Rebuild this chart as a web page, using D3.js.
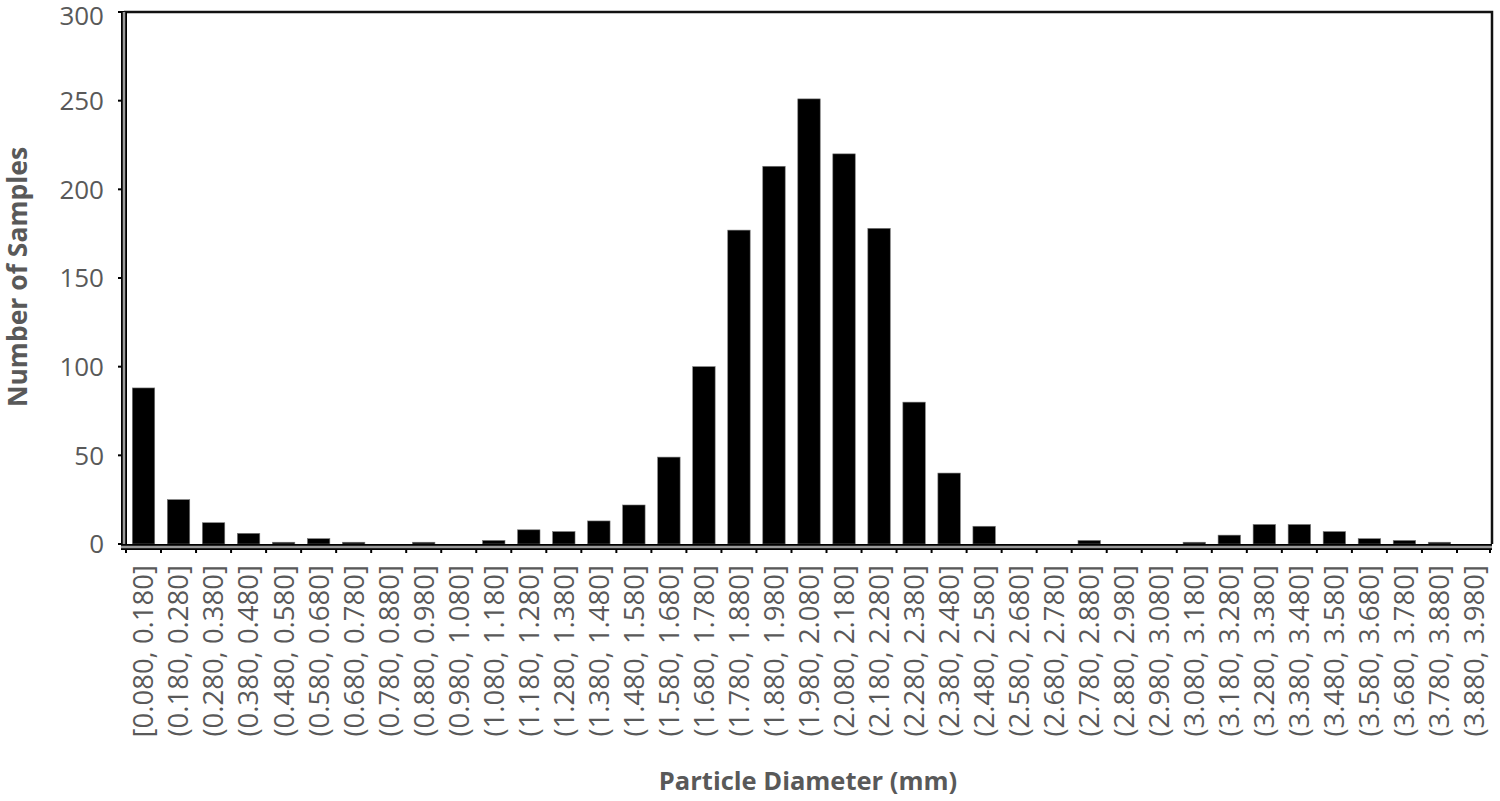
<!DOCTYPE html>
<html><head><meta charset="utf-8">
<script src="https://cdn.jsdelivr.net/npm/d3@7"></script>
<style>body{margin:0;background:#fff}svg{display:block}</style>
</head><body><svg id="c" width="1500" height="801"></svg>
<script>
const categories = ["[0.080, 0.180]","(0.180, 0.280]","(0.280, 0.380]","(0.380, 0.480]","(0.480, 0.580]","(0.580, 0.680]","(0.680, 0.780]","(0.780, 0.880]","(0.880, 0.980]","(0.980, 1.080]","(1.080, 1.180]","(1.180, 1.280]","(1.280, 1.380]","(1.380, 1.480]","(1.480, 1.580]","(1.580, 1.680]","(1.680, 1.780]","(1.780, 1.880]","(1.880, 1.980]","(1.980, 2.080]","(2.080, 2.180]","(2.180, 2.280]","(2.280, 2.380]","(2.380, 2.480]","(2.480, 2.580]","(2.580, 2.680]","(2.680, 2.780]","(2.780, 2.880]","(2.880, 2.980]","(2.980, 3.080]","(3.080, 3.180]","(3.180, 3.280]","(3.280, 3.380]","(3.380, 3.480]","(3.480, 3.580]","(3.580, 3.680]","(3.680, 3.780]","(3.780, 3.880]","(3.880, 3.980]"];
const counts = [88,25,12,6,1,3,1,0,1,0,2,8,7,13,22,49,100,177,213,251,220,178,80,40,10,0,0,2,0,0,1,5,11,11,7,3,2,1,0];
const yTicks = [0,50,100,150,200,250,300];
const xTitle = "Particle Diameter (mm)";
const yTitle = "Number of Samples";

const svg = d3.select("#c");
const pL = 124, pR = 1492, pT = 12, pB = 544;
const font = "'Open Sans', sans-serif";
const grey = "#595959";

const x = d3.scaleBand().domain(categories).range([pL+2, pR]).paddingInner(0.36).paddingOuter(0.18);
const y = d3.scaleLinear().domain([0,300]).range([pB, pT]);

// frame top and right
svg.append("path").attr("d", `M${pL},${pT}H${pR}V${pB}`).attr("fill","none").attr("stroke","#111").attr("stroke-width",2.5);

// bars
svg.append("g").selectAll("rect").data(counts).join("rect")
  .attr("x",(d,i)=>x(categories[i]))
  .attr("width",x.bandwidth())
  .attr("y",d=>y(d))
  .attr("height",d=>pB-y(d))
  .attr("fill","#000").attr("stroke","#777").attr("stroke-width",0.6);

// y axis ticks & labels
const gy = svg.append("g");
gy.selectAll("line").data(yTicks).join("line")
  .attr("x1",pL-6).attr("x2",pL).attr("y1",d=>y(d)).attr("y2",d=>y(d))
  .attr("stroke","#000").attr("stroke-width",2);
gy.selectAll("text").data(yTicks).join("text")
  .attr("x",104).attr("y",d=>Math.max(y(d), pT+4)).attr("dy","0.36em")
  .attr("text-anchor","end").attr("font-family",font).attr("font-size",26).attr("fill",grey)
  .text(d=>d);

// x ticks at band boundaries
const bounds = categories.map(c=>x(c)-x.step()*x.paddingInner()/2);
bounds.push(pR-2);
svg.append("g").selectAll("line").data(bounds).join("line")
  .attr("x1",d=>d).attr("x2",d=>d).attr("y1",pB).attr("y2",pB+9)
  .attr("stroke","#000").attr("stroke-width",2);

// axis double lines
function dbl(x1,y1,x2,y2){
  svg.append("line").attr("x1",x1).attr("y1",y1).attr("x2",x2).attr("y2",y2).attr("stroke","#000").attr("stroke-width",6);
  svg.append("line").attr("x1",x1).attr("y1",y1).attr("x2",x2).attr("y2",y2).attr("stroke","#9a9a9a").attr("stroke-width",2.5);
}
dbl(pL, pT, pL, pB+3);
dbl(pL-3, pB+3, pR, pB+3);

// x labels
svg.append("g").selectAll("text").data(categories).join("text")
  .attr("transform",d=>`translate(${x(d)+x.bandwidth()/2},565) rotate(-90)`)
  .attr("dy","0.36em").attr("text-anchor","end")
  .attr("font-family",font).attr("font-size",27.5).attr("fill",grey)
  .text(d=>d);

// titles
svg.append("text").attr("x",808).attr("y",790).attr("text-anchor","middle")
  .attr("font-family",font).attr("font-weight","bold").attr("font-size",25.5).attr("fill",grey).text(xTitle);
svg.append("text").attr("transform","translate(27,277) rotate(-90)").attr("text-anchor","middle")
  .attr("font-family",font).attr("font-weight","bold").attr("font-size",26.5).attr("fill",grey).text(yTitle);
</script></body></html>
